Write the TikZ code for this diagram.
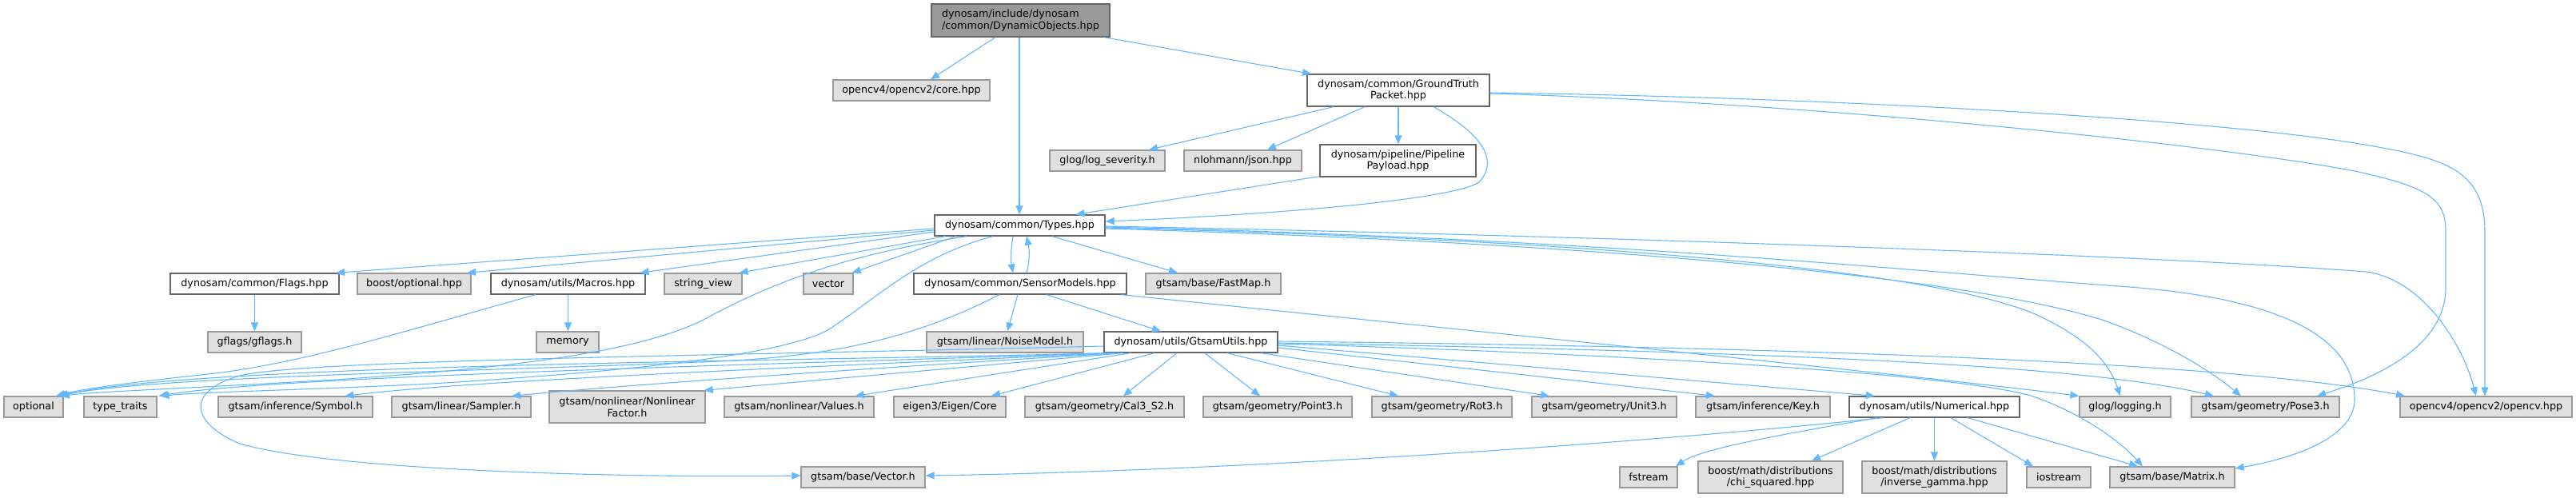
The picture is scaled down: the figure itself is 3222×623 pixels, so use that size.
\documentclass[tikz,border=0pt]{standalone}
\usepackage{fontspec}
\setmainfont{DejaVu Sans}
\usetikzlibrary{arrows.meta}
\definecolor{edgeblue}{HTML}{63B8FF}
\definecolor{gfill}{HTML}{E0E0E0}
\definecolor{gborder}{HTML}{999999}
\definecolor{wborder}{HTML}{666666}
\definecolor{rootfill}{HTML}{999999}
\begin{document}
\begin{tikzpicture}[x=1pt,y=-1pt,
  base/.style={rectangle, inner sep=0pt, line width=1.3pt, font=\fontsize{12.75pt}{14.5pt}\selectfont, minimum height=26pt},
  extnode/.style={base, draw=gborder, fill=gfill},
  filenode/.style={base, draw=wborder, fill=white},
  rootnode/.style={base, draw=wborder, fill=rootfill},
  twoline/.style={minimum height=40pt, align=center},
  edge/.style={draw=edgeblue, line width=1.1pt, -{Triangle[length=11pt,width=9pt]}},
]
\useasboundingbox (0,0) rectangle (3222,623);

% rank 0
\node[rootnode, minimum width=223pt, minimum height=41pt, align=left] (root) at (1276.5,25.5) {dynosam/include/dynosam\\/common/DynamicObjects.hpp};
% rank 1
\node[extnode, minimum width=196pt] (core) at (1140,113) {opencv4/opencv2/core.hpp};
\node[filenode, twoline, minimum width=228pt] (gt) at (1749,113) {dynosam/common/GroundTruth\\Packet.hpp};
% rank 2
\node[extnode, minimum width=144pt] (logsev) at (1385,201) {glog/log\_severity.h};
\node[extnode, minimum width=147pt] (json) at (1554.5,201) {nlohmann/json.hpp};
\node[filenode, twoline, minimum width=195pt] (payload) at (1748.5,201) {dynosam/pipeline/Pipeline\\Payload.hpp};
% rank 3
\node[filenode, minimum width=213pt] (types) at (1275.5,282) {dynosam/common/Types.hpp};
% rank 4
\node[filenode, minimum width=211pt] (flags) at (318.5,355) {dynosam/common/Flags.hpp};
\node[extnode, minimum width=142pt] (bopt) at (518,355) {boost/optional.hpp};
\node[filenode, minimum width=193pt] (macros) at (710.5,355) {dynosam/utils/Macros.hpp};
\node[extnode, minimum width=97pt] (sview) at (879.5,355) {string\_view};
\node[extnode, minimum width=62pt] (vector) at (1036,355) {vector};
\node[filenode, minimum width=266pt] (sensor) at (1276,355) {dynosam/common/SensorModels.hpp};
\node[extnode, minimum width=169pt] (fastmap) at (1517.5,355) {gtsam/base/FastMap.h};
% rank 5
\node[extnode, minimum width=117pt] (gflags) at (318.5,428) {gflags/gflags.h};
\node[extnode, minimum width=78pt] (memory) at (710,428) {memory};
\node[extnode, minimum width=196pt] (noise) at (1257,428) {gtsam/linear/NoiseModel.h};
\node[filenode, minimum width=217pt] (gu) at (1489.5,428) {dynosam/utils/GtsamUtils.hpp};
% rank 6
\node[extnode, minimum width=74pt] (optional) at (42,509) {optional};
\node[extnode, minimum width=91pt] (tt) at (150.5,509) {type\_traits};
\node[extnode, minimum width=193pt] (symbol) at (369.5,509) {gtsam/inference/Symbol.h};
\node[extnode, minimum width=174pt] (sampler) at (577,509) {gtsam/linear/Sampler.h};
\node[extnode, twoline, minimum width=195pt] (nlf) at (784.5,509) {gtsam/nonlinear/Nonlinear\\Factor.h};
\node[extnode, minimum width=187pt] (values) at (999.5,509) {gtsam/nonlinear/Values.h};
\node[extnode, minimum width=140pt] (eigen) at (1188,509) {eigen3/Eigen/Core};
\node[extnode, minimum width=199pt] (cal3) at (1381.5,509) {gtsam/geometry/Cal3\_S2.h};
\node[extnode, minimum width=186pt] (point3) at (1598,509) {gtsam/geometry/Point3.h};
\node[extnode, minimum width=175pt] (rot3) at (1803.5,509) {gtsam/geometry/Rot3.h};
\node[extnode, minimum width=181pt] (unit3) at (2006.5,509) {gtsam/geometry/Unit3.h};
\node[extnode, minimum width=168pt] (key) at (2205,509) {gtsam/inference/Key.h};
\node[filenode, minimum width=213pt] (numerical) at (2419.5,509) {dynosam/utils/Numerical.hpp};
\node[extnode, minimum width=114pt] (logging) at (2658,509) {glog/logging.h};
\node[extnode, minimum width=185pt] (pose3) at (2833.5,509) {gtsam/geometry/Pose3.h};
\node[extnode, minimum width=215pt] (opencv) at (3109.5,509) {opencv4/opencv2/opencv.hpp};
% rank 7
\node[extnode, minimum width=155pt] (vec) at (1079.5,597) {gtsam/base/Vector.h};
\node[extnode, minimum width=72pt] (fstream) at (2062,597) {fstream};
\node[extnode, twoline, minimum width=181pt] (chi) at (2214.5,597) {boost/math/distributions\\/chi\_squared.hpp};
\node[extnode, twoline, minimum width=181pt] (invg) at (2419.5,597) {boost/math/distributions\\/inverse\_gamma.hpp};
\node[extnode, minimum width=80pt] (iostream) at (2575,597) {iostream};
\node[extnode, minimum width=156pt] (matrix) at (2717,597) {gtsam/base/Matrix.h};

% root edges
\draw[edge] ([shift={(-31.5,0)}]root.south) -- ([shift={(24,0)}]core.north);
\draw[edge] ([shift={(-1.5,0)}]root.south) -- ([shift={(-0.5,0)}]types.north);
\draw[edge] ([shift={(104.5,0)}]root.south) -- ([shift={(-109,0)}]gt.north);
% GroundTruth edges
\draw[edge] ([shift={(-81,0)}]gt.south) -- ([shift={(52,0)}]logsev.north);
\draw[edge] ([shift={(-42,0)}]gt.south) -- ([shift={(30.5,0)}]json.north);
\draw[edge] (gt.south) -- ([shift={(0.5,0)}]payload.north);
\draw[edge] ([shift={(44,0)}]gt.south) .. controls (1840,160) and (1880,195) .. (1850,228) .. controls (1815,250) and (1600,268) .. ([shift={(0,-5)}]types.east);
\draw[edge] ([shift={(0,3)}]gt.east) .. controls (2300,122) and (2800,150) .. (2980,185) .. controls (3060,200) and (3108,215) .. (3108,290) -- ([shift={(-1.5,0)}]opencv.north);
\draw[edge] ([shift={(0,4)}]gt.east) .. controls (2300,130) and (2800,185) .. (2950,215) .. controls (3040,235) and (3059,250) .. (3059,290) -- (3059,360) .. controls (3059,430) and (2980,470) .. ([shift={(64.5,0)}]pose3.north);
\draw[edge] ([shift={(0,-1)}]payload.south west) -- ([shift={(70,0)}]types.north);
% Types edges
\draw[edge] ([shift={(0,4)}]types.west) -- ([shift={(101.5,0)}]flags.north);
\draw[edge] ([shift={(0,6)}]types.west) -- ([shift={(66,0)}]bopt.north);
\draw[edge] ([shift={(0,8)}]types.west) -- ([shift={(90,0)}]macros.north);
\draw[edge] ([shift={(14,0)}]types.south west) -- ([shift={(45,0)}]sview.north);
\draw[edge] ([shift={(27,0)}]types.south west) -- ([shift={(-2,0)}]vector.north east);
\draw[edge] ([shift={(-8.5,0)}]types.south) .. controls (1264,315) and (1264,325) .. ([shift={(-9,0)}]sensor.north);
\draw[edge] ([shift={(8,0)}]sensor.north) .. controls (1288,325) and (1288,315) .. ([shift={(8.5,0)}]types.south);
\draw[edge] ([shift={(40.5,0)}]types.south) -- ([shift={(-44.5,0)}]fastmap.north);
\draw[edge] ([shift={(41,0)}]types.south west) .. controls (1080,315) and (980,345) .. (880,400) .. controls (780,450) and (560,465) .. (420,475) .. controls (250,485) and (120,490) .. ([shift={(34,0)}]optional.north);
\draw[edge] ([shift={(-33.5,0)}]types.south) .. controls (1150,320) and (1100,370) .. (1040,410) .. controls (980,450) and (700,470) .. (540,480) .. controls (380,488) and (260,490) .. ([shift={(50,0)}]tt.north);
\draw[edge] ([shift={(0,3)}]types.east) .. controls (2000,300) and (2450,340) .. (2560,400) .. controls (2620,430) and (2640,460) .. ([shift={(-6,0)}]logging.north);
\draw[edge] ([shift={(0,4)}]types.east) .. controls (2000,304) and (2450,345) .. (2629,400) .. controls (2700,425) and (2760,460) .. ([shift={(-30.5,0)}]pose3.north);
\draw[edge] ([shift={(0,1)}]types.east) .. controls (2000,295) and (2700,320) .. (2960,340) .. controls (3030,350) and (3080,430) .. ([shift={(-12.5,0)}]opencv.north);
\draw[edge] ([shift={(0,2)}]types.east) .. controls (2000,298) and (2400,340) .. (2650,358) .. controls (2850,372) and (2945,420) .. (2945,500) .. controls (2945,550) and (2860,575) .. ([shift={(0,-11)}]matrix.east);
% SensorModels edges
\draw[edge] ([shift={(-7,0)}]sensor.south east) .. controls (1900,420) and (2400,470) .. (logging.north west);
\draw[edge] ([shift={(-3,0)}]sensor.south) -- ([shift={(3,0)}]noise.north);
\draw[edge] ([shift={(33,0)}]sensor.south) -- ([shift={(-37.5,0)}]gu.north);
\draw[edge] ([shift={(-26,0)}]sensor.south) .. controls (1150,420) and (1050,445) .. (900,452) .. controls (600,465) and (200,470) .. ([shift={(30,0)}]optional.north);
% Macros / Flags edges
\draw[edge] (flags.south) -- (gflags.north);
\draw[edge] (macros.south) -- ([shift={(0.5,0)}]memory.north);
\draw[edge] ([shift={(-40.5,0)}]macros.south) .. controls (520,410) and (380,455) .. (260,468) .. controls (170,478) and (110,485) .. ([shift={(28,0)}]optional.north);
% GtsamUtils edges
\draw[edge] ([shift={(4,0)}]gu.south west) .. controls (1000,452) and (250,455) .. ([shift={(32,0)}]optional.north);
\draw[edge] ([shift={(9,0)}]gu.south west) .. controls (1000,455) and (350,470) .. ([shift={(48,0)}]tt.north);
\draw[edge] ([shift={(14,0)}]gu.south west) .. controls (1000,460) and (600,475) .. ([shift={(62,0)}]symbol.north);
\draw[edge] ([shift={(19,0)}]gu.south west) .. controls (1100,460) and (800,480) .. ([shift={(63,0)}]sampler.north);
\draw[edge] ([shift={(24,0)}]gu.south west) -- ([shift={(-2,0)}]nlf.north east);
\draw[edge] ([shift={(34,0)}]gu.south west) -- ([shift={(70,0)}]values.north);
\draw[edge] ([shift={(0,5)}]gu.west) .. controls (900,445) and (380,450) .. (300,470) .. controls (230,490) and (240,530) .. (300,555) .. controls (420,590) and (800,598) .. ([shift={(0,-2)}]vec.west);
\draw[edge] ([shift={(-45.5,0)}]gu.south) -- ([shift={(52,0)}]eigen.north);
\draw[edge] ([shift={(-17.5,0)}]gu.south) -- ([shift={(23.5,0)}]cal3.north);
\draw[edge] ([shift={(17.5,0)}]gu.south) -- ([shift={(-22,0)}]point3.north);
\draw[edge] ([shift={(45.5,0)}]gu.south) -- ([shift={(-54.5,0)}]rot3.north);
\draw[edge] ([shift={(87.5,0)}]gu.south) -- ([shift={(-68.5,0)}]unit3.north);
\draw[edge] ([shift={(0,7)}]gu.east) -- ([shift={(-60,0)}]key.north);
\draw[edge] ([shift={(0,4)}]gu.east) -- ([shift={(-74.5,0)}]numerical.north);
\draw[edge] ([shift={(0,1)}]gu.east) .. controls (2200,440) and (2600,455) .. ([shift={(-64.5,0)}]pose3.north);
\draw[edge] ([shift={(0,-1)}]gu.east) .. controls (2300,435) and (2800,455) .. ([shift={(-101.5,0)}]opencv.north);
\draw[edge] ([shift={(0,2)}]gu.east) .. controls (2100,445) and (2450,470) .. (2540,495) .. controls (2600,515) and (2650,550) .. ([shift={(-37,0)}]matrix.north);
% Numerical edges
\draw[edge] ([shift={(-64.5,0)}]numerical.south) .. controls (2000,560) and (1500,590) .. ([shift={(0,-2)}]vec.east);
\draw[edge] ([shift={(-71.5,0)}]numerical.south) .. controls (2250,540) and (2130,560) .. ([shift={(34,0)}]fstream.north);
\draw[edge] ([shift={(-30.5,0)}]numerical.south) -- ([shift={(51.5,0)}]chi.north);
\draw[edge] (numerical.south) -- (invg.north);
\draw[edge] ([shift={(20.5,0)}]numerical.south) -- ([shift={(-32,0)}]iostream.north);
\draw[edge] ([shift={(41.5,0)}]numerical.south) -- ([shift={(-43,0)}]matrix.north);
\end{tikzpicture}
\end{document}
